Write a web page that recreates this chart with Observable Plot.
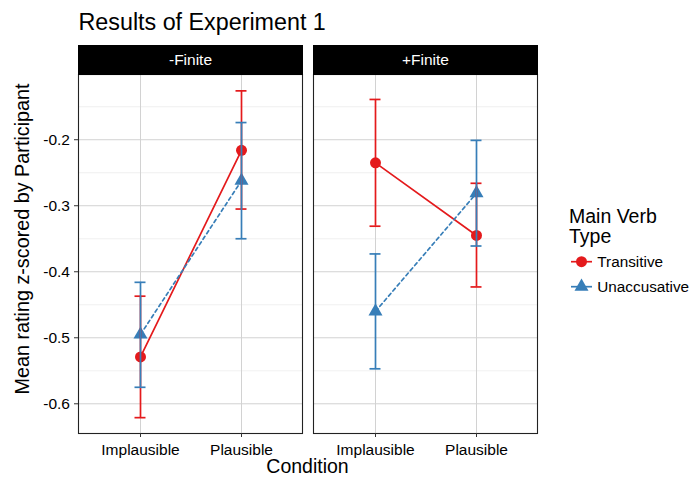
<!DOCTYPE html>
<html>
<head>
<meta charset="utf-8">
<script src="https://cdn.jsdelivr.net/npm/d3@7"></script>
<script src="https://cdn.jsdelivr.net/npm/@observablehq/plot@0.6"></script>
<style>
  html, body { margin: 0; padding: 0; background: #fff; }
  #wrap { position: relative; width: 691px; height: 477px; overflow: hidden;
          font-family: "Liberation Sans", Arial, Helvetica, sans-serif; }
  #title { height: 40px; box-sizing: border-box; padding-left: 78.5px; padding-top: 11px;
           font-size: 23.3px; line-height: 1; color: #000; white-space: nowrap; }
  #overlay { position: absolute; left: 0; top: 0; pointer-events: none; }
</style>
</head>
<body>
<div id="wrap">
  <div id="title">Results of Experiment 1</div>
  <div id="chart"></div>
  <svg id="overlay" width="691" height="477"></svg>
</div>
<script>
// ---- data ----
const panels = ["-Finite", "+Finite"];
const conditions = ["Implausible", "Plausible"];
const verbTypes = ["Transitive", "Unaccusative"];
const panel = ["-Finite","-Finite","-Finite","-Finite","+Finite","+Finite","+Finite","+Finite"];
const verb = ["Transitive","Transitive","Unaccusative","Unaccusative","Transitive","Transitive","Unaccusative","Unaccusative"];
const condition = ["Implausible","Plausible","Implausible","Plausible","Implausible","Plausible","Implausible","Plausible"];
const mean  = [-0.529, -0.216, -0.495, -0.262, -0.235, -0.345, -0.460, -0.281];
const lower = [-0.621, -0.305, -0.575, -0.350, -0.331, -0.423, -0.547, -0.361];
const upper = [-0.437, -0.126, -0.416, -0.174, -0.139, -0.266, -0.373, -0.201];
const yTicks = [-0.6, -0.5, -0.4, -0.3, -0.2];
const yMinorTicks = [-0.55, -0.45, -0.35, -0.25, -0.15];

const colors = {Transitive: "#E41A1C", Unaccusative: "#377EB8"};
const symbols = {Transitive: "circle", Unaccusative: "triangle"};
const dashes = {Transitive: null, Unaccusative: "3.5,3.2"};
const radii = {Transitive: 5.5, Unaccusative: 5.2};

const rows = panel.map((p, i) => ({
  panel: p, verb: verb[i], condition: condition[i],
  mean: mean[i], lower: lower[i], upper: upper[i]
}));

// ---- layout ----
const W = 691, H = 437, MT = 34, MB = 44, ML = 78, MR = 154;
const stripH = 29;
const panelH = H - MT - MB;
const FONT = '"Liberation Sans", Arial, Helvetica, sans-serif';

const marks = [
  Plot.ruleY(yMinorTicks, {stroke: "#ececec", strokeWidth: 0.8}),
  Plot.ruleY(yTicks, {stroke: "#d2d2d2", strokeWidth: 1}),
  Plot.ruleX(conditions, {x: d => d, stroke: "#d2d2d2", strokeWidth: 1}),
  Plot.frame({stroke: "#222", strokeWidth: 1.1}),
  Plot.frame({fill: "black", stroke: "black", insetTop: -stripH, insetBottom: panelH}),
  Plot.text(panels, {fx: d => d, text: d => d, frameAnchor: "top", dy: -stripH / 2,
                     lineAnchor: "middle", fill: "white", fontSize: 15.5}),
  Plot.axisY({ticks: yTicks, tickFormat: d => d.toFixed(1), tickSize: 4, tickPadding: 4.5,
              label: null, fontSize: 15.5, stroke: "#333", color: "#000"}),
  Plot.axisX({tickSize: 4, tickPadding: 6, label: null, fontSize: 15.5, stroke: "#333", color: "#000"})
];

for (const v of verbTypes) {
  const sub = rows.filter(d => d.verb === v);
  marks.push(Plot.line(sub, {fx: "panel", x: "condition", y: "mean", stroke: colors[v],
    strokeWidth: 1.7, strokeDasharray: dashes[v]}));
}
for (const v of verbTypes) {
  const sub = rows.filter(d => d.verb === v);
  marks.push(Plot.dot(sub, {fx: "panel", x: "condition", y: "mean", symbol: symbols[v],
    r: radii[v], fill: colors[v], stroke: "none"}));
}
for (const v of verbTypes) {
  const sub = rows.filter(d => d.verb === v);
  marks.push(Plot.ruleX(sub, {fx: "panel", x: "condition", y1: "lower", y2: "upper",
    stroke: colors[v], strokeWidth: 1.7}));
  for (const end of ["lower", "upper"]) {
    marks.push(Plot.ruleY(sub, {fx: "panel", x1: "condition", x2: "condition", y: end,
      stroke: colors[v], strokeWidth: 1.7, insetLeft: -5.5, insetRight: -5.5}));
  }
}

const chart = Plot.plot({
  width: W, height: H,
  marginTop: MT, marginBottom: MB, marginLeft: ML, marginRight: MR,
  style: {fontFamily: FONT, fontSize: "15px", color: "#000", background: "white"},
  fx: {domain: panels, paddingInner: 0.047, paddingOuter: 0, axis: null, label: null},
  x: {type: "point", domain: conditions, padding: 0.6, axis: null},
  y: {domain: [-0.645, -0.1012], axis: null},
  marks
});
document.getElementById("chart").appendChild(chart);

// ---- axis titles and legend (text overlay) ----
const ov = d3.select("#overlay").style("font-family", FONT);
ov.append("text").attr("transform", "translate(29,239) rotate(-90)")
  .attr("text-anchor", "middle").attr("font-size", 19.8).attr("fill", "#000")
  .text("Mean rating z-scored by Participant");
ov.append("text").attr("x", 307.5).attr("y", 472.5)
  .attr("text-anchor", "middle").attr("font-size", 19.5).attr("fill", "#000")
  .text("Condition");
ov.append("text").attr("x", 569).attr("y", 223.3).attr("font-size", 19.5).attr("fill", "#000").text("Main Verb");
ov.append("text").attr("x", 569).attr("y", 243.3).attr("font-size", 19.5).attr("fill", "#000").text("Type");
verbTypes.forEach((v, i) => {
  const cy = 261.7 + i * 25;
  const g = ov.append("g");
  g.append("line").attr("x1", 571).attr("x2", 592).attr("y1", cy).attr("y2", cy)
    .attr("stroke", colors[v]).attr("stroke-width", 1.7);
  const sym = v === "Transitive" ? d3.symbolCircle : d3.symbolTriangle;
  g.append("path").attr("d", d3.symbol(sym, Math.PI * radii[v] * radii[v])())
    .attr("transform", `translate(581.5,${cy})`).attr("fill", colors[v]);
  g.append("text").attr("x", 597.3).attr("y", cy + 5.2).attr("font-size", 15.3).attr("fill", "#000").text(v);
});
</script>
</body>
</html>
